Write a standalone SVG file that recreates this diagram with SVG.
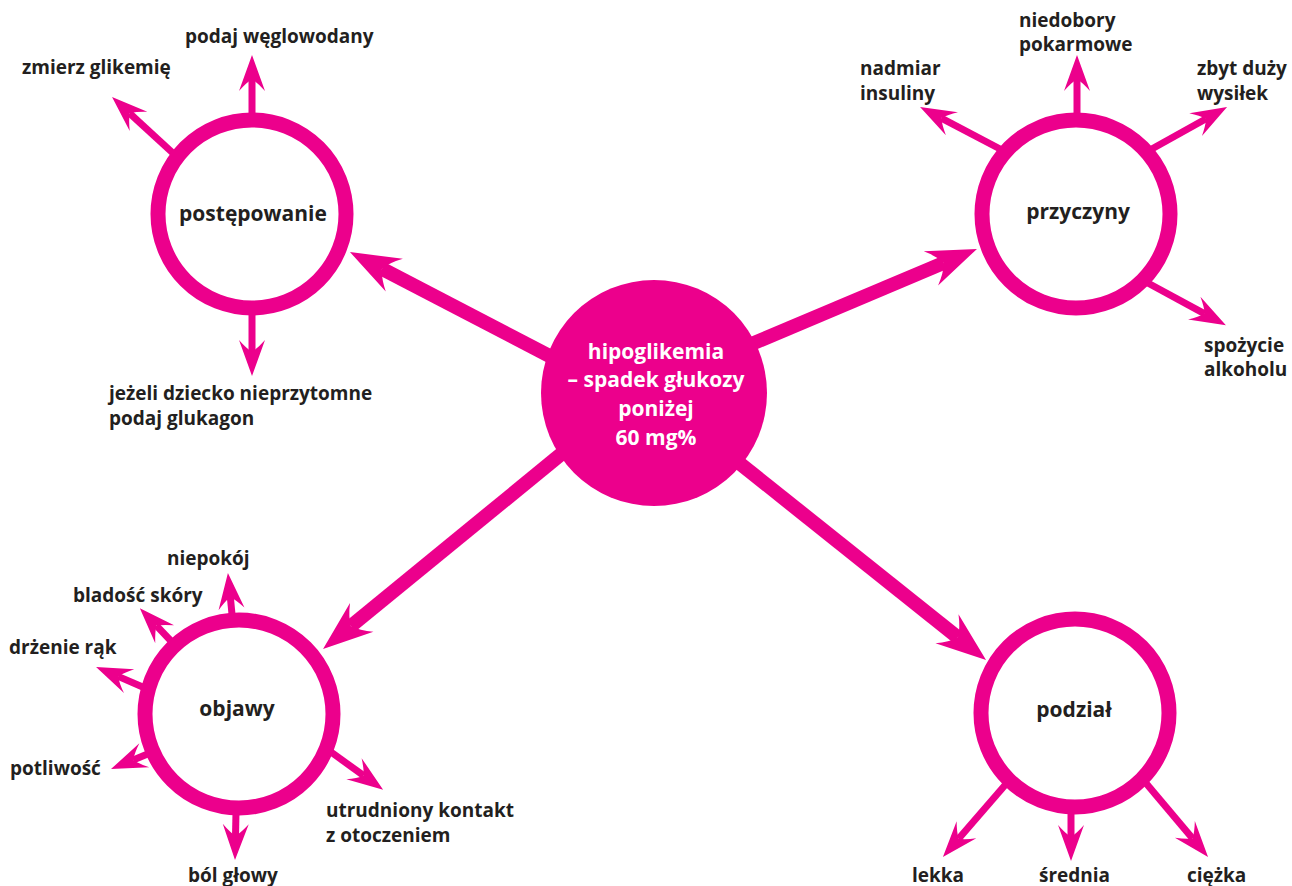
<svg xmlns="http://www.w3.org/2000/svg" width="1292" height="886" viewBox="0 0 1292 886">
<style>
.lbl{font-family:"Open Sans","Liberation Sans",sans-serif;font-weight:700;font-size:19px;fill:#231f20}
.mid{text-anchor:middle;font-size:21px}
.ctr{font-family:"Open Sans","Liberation Sans",sans-serif;font-weight:700;font-size:21px;fill:#ffffff;text-anchor:middle}
.ring{fill:#ffffff;stroke:#ec008c;stroke-width:15}
.big{stroke:#ec008c;stroke-width:14;fill:none;marker-end:url(#hb)}
.sm{stroke:#ec008c;stroke-width:7;fill:none;marker-end:url(#hs)}
</style>
<defs>
<marker id="hb" markerUnits="userSpaceOnUse" orient="auto" refX="0" refY="0" markerWidth="80" markerHeight="60" overflow="visible">
<path d="M36,0 L-14,-18.5 Q-4,-9 0,0 Q-4,9 -14,18.5 Z" fill="#ec008c"/>
</marker>
<marker id="hs" markerUnits="userSpaceOnUse" orient="auto" refX="0" refY="0" markerWidth="60" markerHeight="40" overflow="visible">
<path d="M24,0 L-12,-13 Q-4,-6 0,0 Q-4,6 -12,13 Z" fill="#ec008c"/>
</marker>
</defs>
<g id="connectors">
<line class="big" x1="563" y1="363" x2="381.9" y2="268.7"/>
<line class="big" x1="742" y1="348" x2="943.8" y2="262.9"/>
<line class="big" x1="571" y1="446" x2="350.9" y2="626.2"/>
<line class="big" x1="728" y1="454" x2="957.9" y2="637.5"/>
<line class="sm" x1="252" y1="118" x2="252" y2="79"/>
<line class="sm" x1="175" y1="155" x2="129.7" y2="113.3"/>
<line class="sm" x1="252" y1="310" x2="252" y2="352"/>
<line class="sm" x1="1077" y1="118" x2="1077" y2="79"/>
<line class="sm" x1="1002" y1="150" x2="941.3" y2="118.1"/>
<line class="sm" x1="1150" y1="150" x2="1206.1" y2="118.7"/>
<line class="sm" x1="1146" y1="282" x2="1204.8" y2="313.8"/>
<line class="sm" x1="232" y1="614" x2="230.3" y2="596.9"/>
<line class="sm" x1="172" y1="642" x2="156.4" y2="625.6"/>
<line class="sm" x1="145" y1="688" x2="118.1" y2="676.4"/>
<line class="sm" x1="150" y1="753" x2="133.2" y2="759.9"/>
<line class="sm" x1="331" y1="752" x2="363.7" y2="775.7"/>
<line class="sm" x1="236" y1="812" x2="235.5" y2="836"/>
<line class="sm" x1="1006" y1="784" x2="958.6" y2="838.8"/>
<line class="sm" x1="1071" y1="813" x2="1071" y2="837"/>
<line class="sm" x1="1145" y1="782" x2="1192.6" y2="838.6"/>
</g>
<g id="center">
<circle cx="654" cy="393" r="113" fill="#ec008c"/>
<text class="ctr" x="656" y="359">hipoglikemia</text>
<text class="ctr" x="656" y="387">– spadek głukozy</text>
<text class="ctr" x="656" y="416">poniżej</text>
<text class="ctr" x="656" y="445">60 mg%</text>
</g>
<g id="postepowanie">
<circle class="ring" cx="252" cy="214" r="94"/>
<text class="lbl mid" x="253" y="221">postępowanie</text>
</g>
<g id="przyczyny">
<circle class="ring" cx="1076" cy="214" r="94"/>
<text class="lbl mid" x="1078" y="219">przyczyny</text>
</g>
<g id="objawy">
<circle class="ring" cx="239" cy="714" r="94"/>
<text class="lbl mid" x="237" y="716">objawy</text>
</g>
<g id="podzial">
<circle class="ring" cx="1075" cy="713" r="94"/>
<text class="lbl mid" x="1074" y="717">podział</text>
</g>
<g id="leaf-podaj-weglowodany"><text class="lbl" x="185" y="43">podaj węglowodany</text></g>
<g id="leaf-zmierz-glikemie"><text class="lbl" x="22" y="74">zmierz glikemię</text></g>
<g id="leaf-glukagon"><text class="lbl" x="109" y="400">jeżeli dziecko nieprzytomne</text><text class="lbl" x="109" y="425">podaj glukagon</text></g>
<g id="leaf-niedobory"><text class="lbl" x="1019" y="27">niedobory</text><text class="lbl" x="1019" y="51">pokarmowe</text></g>
<g id="leaf-nadmiar"><text class="lbl" x="860" y="75">nadmiar</text><text class="lbl" x="860" y="100">insuliny</text></g>
<g id="leaf-wysilek"><text class="lbl" x="1197" y="75">zbyt duży</text><text class="lbl" x="1197" y="100">wysiłek</text></g>
<g id="leaf-alkohol"><text class="lbl" x="1204" y="352">spożycie</text><text class="lbl" x="1204" y="376">alkoholu</text></g>
<g id="leaf-niepokoj"><text class="lbl" x="167" y="565">niepokój</text></g>
<g id="leaf-bladosc"><text class="lbl" x="73" y="602">bladość skóry</text></g>
<g id="leaf-drzenie"><text class="lbl" x="9" y="654">drżenie rąk</text></g>
<g id="leaf-potliwosc"><text class="lbl" x="10" y="775">potliwość</text></g>
<g id="leaf-kontakt"><text class="lbl" x="326" y="817">utrudniony kontakt</text><text class="lbl" x="326" y="842">z otoczeniem</text></g>
<g id="leaf-bol"><text class="lbl" x="188" y="882">ból głowy</text></g>
<g id="leaf-lekka"><text class="lbl" x="912" y="882">lekka</text></g>
<g id="leaf-srednia"><text class="lbl" x="1039" y="882">średnia</text></g>
<g id="leaf-ciezka"><text class="lbl" x="1187" y="882">ciężka</text></g>
</svg>
